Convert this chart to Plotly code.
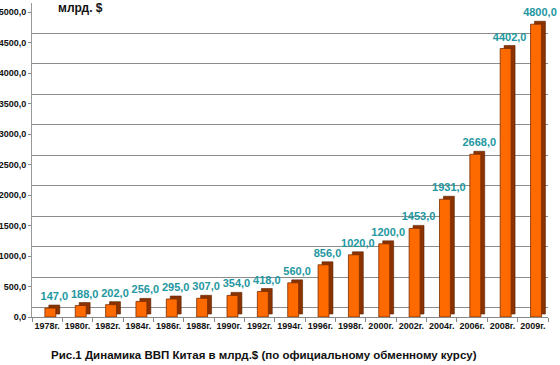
import plotly.graph_objects as go

years = ["1978г.", "1980г.", "1982г.", "1984г.", "1986г.", "1988г.", "1990г.", "1992г.",
         "1994г.", "1996г.", "1998г.", "2000г.", "2002г.", "2004г.", "2006г.", "2008г.", "2009г."]
gdp = [147.0, 188.0, 202.0, 256.0, 295.0, 307.0, 354.0, 418.0,
       560.0, 856.0, 1020.0, 1200.0, 1453.0, 1931.0, 2668.0, 4402.0, 4800.0]
y_ticks = [0, 500, 1000, 1500, 2000, 2500, 3000, 3500, 4000, 4500, 5000]
y_ticktext = ["0,0", "500,0", "1000,0", "1500,0", "2000,0", "2500,0", "3000,0",
              "3500,0", "4000,0", "4500,0", "5000,0"]

W, H = 560, 365
L, R, T, B = 32, 4, 3, 48
plot_w = W - L - R
front_right = 548
depth_units = 148  # 3D depth in value units (approx 9px)
depth_y = 49       # bar top offset

font = "Liberation Sans, Arial, sans-serif"

fig = go.Figure()
# invisible trace to activate the grid axes (back wall)
fig.add_trace(go.Scatter(x=[0], y=[0], xaxis="x2", yaxis="y2", mode="markers",
                         marker=dict(opacity=0), hoverinfo="skip", showlegend=False))
# dark side/back of bars (3D look)
fig.add_trace(go.Bar(
    x=years, y=gdp, base=depth_y, width=0.36, offset=0.055,
    marker=dict(color="#8a3300", line=dict(color="#5a2000", width=0.6)),
    text=[f"{v:.1f}".replace(".", ",") for v in gdp],
    textposition="outside", cliponaxis=False, constraintext="none",
    textfont=dict(family=font, size=11, color="#23979f", weight="bold"),
    hoverinfo="skip", showlegend=False,
))
# front faces
fig.add_trace(go.Bar(
    x=years, y=gdp, width=0.36, offset=-0.075,
    marker=dict(color="#ff6a00", line=dict(color="#7a2c00", width=0.8)),
    showlegend=False,
))

fig.update_layout(
    width=W, height=H,
    margin=dict(l=L, r=R, t=T, b=B, autoexpand=False),
    paper_bgcolor="white", plot_bgcolor="white",
    barmode="overlay",
    xaxis=dict(domain=[0, (front_right - L) / plot_w], type="category",
               showline=True, linecolor="#888", linewidth=1,
               ticks="outside", tickson="boundaries", ticklen=4, tickcolor="#888",
               tickangle=0, automargin=False,
               tickfont=dict(family=font, size=9, color="#111", weight="bold"),
               showgrid=False, zeroline=False, fixedrange=True),
    xaxis2=dict(domain=[(43 - L) / plot_w, 1], overlaying="x", showticklabels=False,
                showgrid=False, zeroline=False, range=[0, 1], anchor="y2"),
    yaxis=dict(range=[0, 5000 + depth_units], tickvals=y_ticks, ticktext=y_ticktext,
               showline=True, linecolor="#888", linewidth=1,
               ticks="outside", ticklen=3, tickcolor="#888", automargin=False,
               tickfont=dict(family=font, size=9, color="#111", weight="bold"),
               showgrid=False, zeroline=False),
    yaxis2=dict(range=[-depth_units, 5000], overlaying="y", anchor="x2",
                tickvals=y_ticks, showticklabels=False, showgrid=True,
                gridcolor="#8c8c8c", gridwidth=1, showline=True, linecolor="#999",
                zeroline=False, side="left"),
    annotations=[
        dict(text="<b>млрд. $</b>", xref="paper", yref="paper", x=0.045, y=0.985,
             xanchor="left", yanchor="middle", showarrow=False,
             font=dict(family=font, size=12, color="#111")),
        dict(text="<b>Рис.1 Динамика ВВП Китая в млрд.$ (по официальному обменному курсу)</b>",
             xref="paper", yref="paper", x=(264 - L) / plot_w, y=-(355 - (H - B)) / (H - T - B),
             xanchor="center", yanchor="middle", showarrow=False,
             font=dict(family=font, size=11.5, color="#111")),
    ],
)

fig.write_html("out.html", config={"displayModeBar": False},
               post_script="document.body.style.margin='0';")
